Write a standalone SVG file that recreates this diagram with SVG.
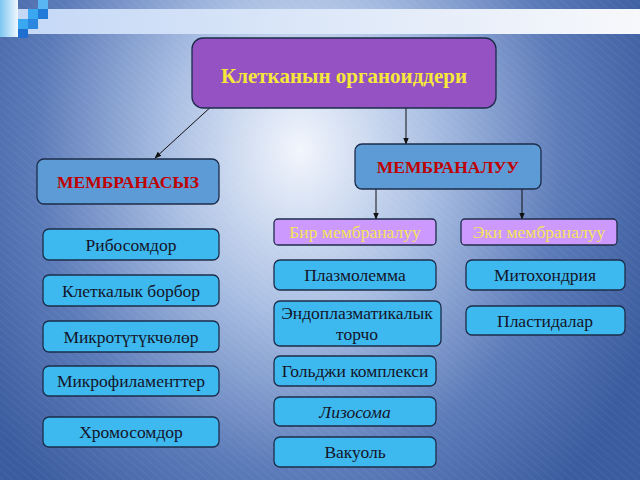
<svg xmlns="http://www.w3.org/2000/svg" width="640" height="480" viewBox="0 0 640 480">
<defs>
<radialGradient id="bg" cx="300" cy="150" r="420" gradientUnits="userSpaceOnUse" gradientTransform="translate(300 150) scale(0.9 1.1) translate(-300 -150)">
<stop offset="0" stop-color="#f2f6fd"/>
<stop offset="0.35" stop-color="#aabfe3"/>
<stop offset="0.7" stop-color="#5b7ab8"/>
<stop offset="1" stop-color="#3b5c9e"/>
</radialGradient>
<linearGradient id="bar" x1="0" y1="0" x2="1" y2="0">
<stop offset="0" stop-color="#c4d8f6"/>
<stop offset="1" stop-color="#f7f8fb"/>
</linearGradient>
<linearGradient id="strip" x1="0" y1="0" x2="1" y2="0">
<stop offset="0" stop-color="#7cc6f0"/>
<stop offset="1" stop-color="#f0f8ff"/>
</linearGradient>
<pattern id="streaks" width="6" height="6" patternUnits="userSpaceOnUse" patternTransform="rotate(-50)">
<rect width="6" height="6" fill="none"/>
<line x1="0" y1="0" x2="0" y2="6" stroke="#ffffff" stroke-opacity="0.07" stroke-width="1.5"/>
</pattern>
<marker id="arr" viewBox="0 0 10 10" refX="9" refY="5" markerWidth="7" markerHeight="7" orient="auto">
<path d="M0,1 L10,5 L0,9 z" fill="#111"/>
</marker>
</defs>
<style>
.box{stroke:#1c2c4a;stroke-width:1.3}
.cyan{fill:#3db9f0}
.mid{fill:#5c9bd5}
.vio{fill:#cc99ff}
.t{font-family:"Liberation Serif","Times New Roman",serif;font-size:17.5px;fill:#141428;text-anchor:middle}
.red{font-family:"Liberation Serif","Times New Roman",serif;font-size:17.5px;font-weight:bold;fill:#c00000;text-anchor:middle}
.yel{font-family:"Liberation Serif","Times New Roman",serif;font-size:17.5px;fill:#f2e45a;text-anchor:middle}
.conn line{stroke:#111;stroke-width:1}
</style>
<rect width="640" height="480" fill="url(#bg)"/>
<rect width="640" height="480" fill="url(#streaks)"/>
<rect x="18" y="9" width="622" height="25" fill="url(#bar)"/>
<rect x="0" y="0" width="18" height="37" fill="url(#strip)"/>
<rect x="38" y="0" width="10" height="9" fill="#5ab6f2"/>
<rect x="28" y="9" width="10" height="10" fill="#3aa8f0"/>
<rect x="38" y="9" width="10" height="10" fill="#1f7ad8"/>
<rect x="18" y="19" width="10" height="10" fill="#3aa8f0"/>
<rect x="28" y="19" width="10" height="10" fill="#2b86e0"/>
<rect x="18" y="29" width="10" height="9" fill="#1f6fd0"/>

<g id="connectors" class="conn">
<line x1="214" y1="104" x2="155" y2="158" marker-end="url(#arr)"/>
<line x1="406" y1="108" x2="406" y2="144" marker-end="url(#arr)"/>
<line x1="376" y1="189" x2="376" y2="219" marker-end="url(#arr)"/>
<line x1="522" y1="189" x2="522" y2="219" marker-end="url(#arr)"/>
</g>

<g id="root">
<rect class="box" x="192" y="38" width="304" height="70" rx="11" fill="#9452c2"/>
<text x="344" y="83" font-family="Liberation Serif, Times New Roman, serif" font-size="21" font-weight="bold" fill="#f5e83a" text-anchor="middle">Клетканын органоиддери</text>
</g>
<g id="membranasyz">
<rect class="box mid" x="37" y="159" width="182" height="45" rx="7"/>
<text class="red" x="128" y="188">МЕМБРАНАСЫЗ</text>
</g>
<g id="membranaluu">
<rect class="box mid" x="355" y="144" width="186" height="45" rx="7"/>
<text class="red" x="448" y="173">МЕМБРАНАЛУУ</text>
</g>
<g id="bir">
<rect class="box vio" x="274" y="219" width="162" height="26" rx="4"/>
<text class="yel" x="355" y="238">Бир мембраналуу</text>
</g>
<g id="eki">
<rect class="box vio" x="461" y="219" width="156" height="26" rx="4"/>
<text class="yel" x="539" y="238">Эки мембраналуу</text>
</g>

<g id="ribosom">
<rect class="box cyan" x="43" y="229" width="176" height="31" rx="6"/>
<text class="t" x="131" y="251">Рибосомдор</text>
</g>
<g id="kletkalyk">
<rect class="box cyan" x="43" y="275" width="176" height="31" rx="6"/>
<text class="t" x="131" y="297">Клеткалык борбор</text>
</g>
<g id="mikrotut">
<rect class="box cyan" x="43" y="321" width="176" height="31" rx="6"/>
<text class="t" x="131" y="343">Микротүтүкчөлөр</text>
</g>
<g id="mikrofil">
<rect class="box cyan" x="43" y="366" width="176" height="30" rx="6"/>
<text class="t" x="131" y="387">Микрофиламенттер</text>
</g>
<g id="hromosom">
<rect class="box cyan" x="43" y="417" width="176" height="30" rx="6"/>
<text class="t" x="131" y="438">Хромосомдор</text>
</g>

<g id="plazmolemma">
<rect class="box cyan" x="274" y="260" width="162" height="30" rx="6"/>
<text class="t" x="355" y="281">Плазмолемма</text>
</g>
<g id="endoplazm">
<rect class="box cyan" x="274" y="301" width="167" height="45" rx="6"/>
<text class="t" x="357" y="319">Эндоплазматикалык</text>
<text class="t" x="357" y="340">торчо</text>
</g>
<g id="goldji">
<rect class="box cyan" x="274" y="356" width="162" height="30" rx="6"/>
<text class="t" x="355" y="377">Гольджи комплекси</text>
</g>
<g id="lizosoma">
<rect class="box cyan" x="274" y="397" width="162" height="29" rx="6"/>
<text class="t" x="355" y="418" font-style="italic">Лизосома</text>
</g>
<g id="vakuol">
<rect class="box cyan" x="274" y="437" width="162" height="30" rx="6"/>
<text class="t" x="355" y="458">Вакуоль</text>
</g>

<g id="mitohondria">
<rect class="box cyan" x="466" y="260" width="159" height="30" rx="6"/>
<text class="t" x="545" y="281">Митохондрия</text>
</g>
<g id="plastid">
<rect class="box cyan" x="466" y="306" width="159" height="29" rx="6"/>
<text class="t" x="545" y="327">Пластидалар</text>
</g>
</svg>
